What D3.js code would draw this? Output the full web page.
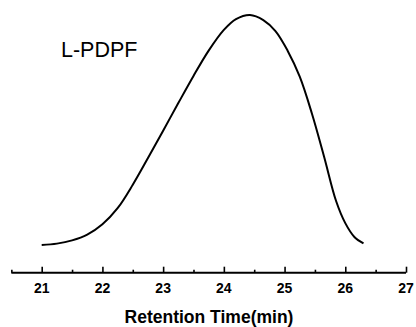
<!DOCTYPE html>
<html><head><meta charset="utf-8">
<script src="https://cdn.jsdelivr.net/npm/d3@7"></script>
<style>body{margin:0;background:#fff;}svg{display:block;}</style>
</head><body>
<script>
const timeValues = [21.00,21.25,21.50,21.75,22.00,22.25,22.50,22.75,23.00,23.25,23.50,23.75,24.00,24.20,24.43,24.65,24.85,25.05,25.25,25.45,25.65,25.85,26.00,26.15,26.30];
const intensityValues = [0.000,0.006,0.020,0.045,0.090,0.160,0.262,0.378,0.497,0.617,0.735,0.845,0.935,0.982,1.000,0.978,0.930,0.845,0.732,0.572,0.385,0.190,0.095,0.035,0.007];
const majorTicks = [21,22,23,24,25,26,27];
const minorTicks = [20.5,21.5,22.5,23.5,24.5,25.5,26.5];
const sampleLabel = "L-PDPF";
const xTitle = "Retention Time(min)";

const W = 416, H = 327;
const svg = d3.select("body").append("svg").attr("width", W).attr("height", H);
const x = d3.scaleLinear().domain([21, 27]).range([41.7, 406]);
const y = d3.scaleLinear().domain([0, 1]).range([245, 15]);
const axisY = 272.7;

const g = svg.append("g").attr("transform", `translate(0,${axisY})`);
g.call(d3.axisTop(x).tickValues(majorTicks).tickSize(6).tickFormat(""));
g.append("g").call(d3.axisTop(x).tickValues(minorTicks).tickSize(3).tickFormat(""));
g.selectAll(".domain").remove();
g.selectAll("line").attr("stroke", "#000").attr("stroke-width", 1.6);
g.append("line").attr("x1", x(20.5)).attr("x2", x(27)).attr("y1", 0).attr("y2", 0)
  .attr("stroke", "#000").attr("stroke-width", 2);

svg.append("g").selectAll("text").data(majorTicks).join("text")
  .attr("x", d => x(d)).attr("y", 293).attr("text-anchor", "middle")
  .attr("font-family", "Liberation Sans, Arial, sans-serif").attr("font-weight", "bold")
  .attr("font-size", 14).attr("fill", "#000").text(d => d);

svg.append("text").attr("x", 209).attr("y", 322.5).attr("text-anchor", "middle")
  .attr("font-family", "Liberation Sans, Arial, sans-serif").attr("font-weight", "bold")
  .attr("font-size", 17.5).attr("fill", "#000").text(xTitle);

svg.append("text").attr("x", 61).attr("y", 56.7)
  .attr("font-family", "Liberation Sans, Arial, sans-serif")
  .attr("font-size", 21.5).attr("fill", "#000").text(sampleLabel);

const data = timeValues.map((t, i) => [t, intensityValues[i]]);
svg.append("path").datum(data)
  .attr("d", d3.line().x(d => x(d[0])).y(d => y(d[1])).curve(d3.curveCatmullRom.alpha(0.5)))
  .attr("fill", "none").attr("stroke", "#000").attr("stroke-width", 2);
</script>
</body></html>
